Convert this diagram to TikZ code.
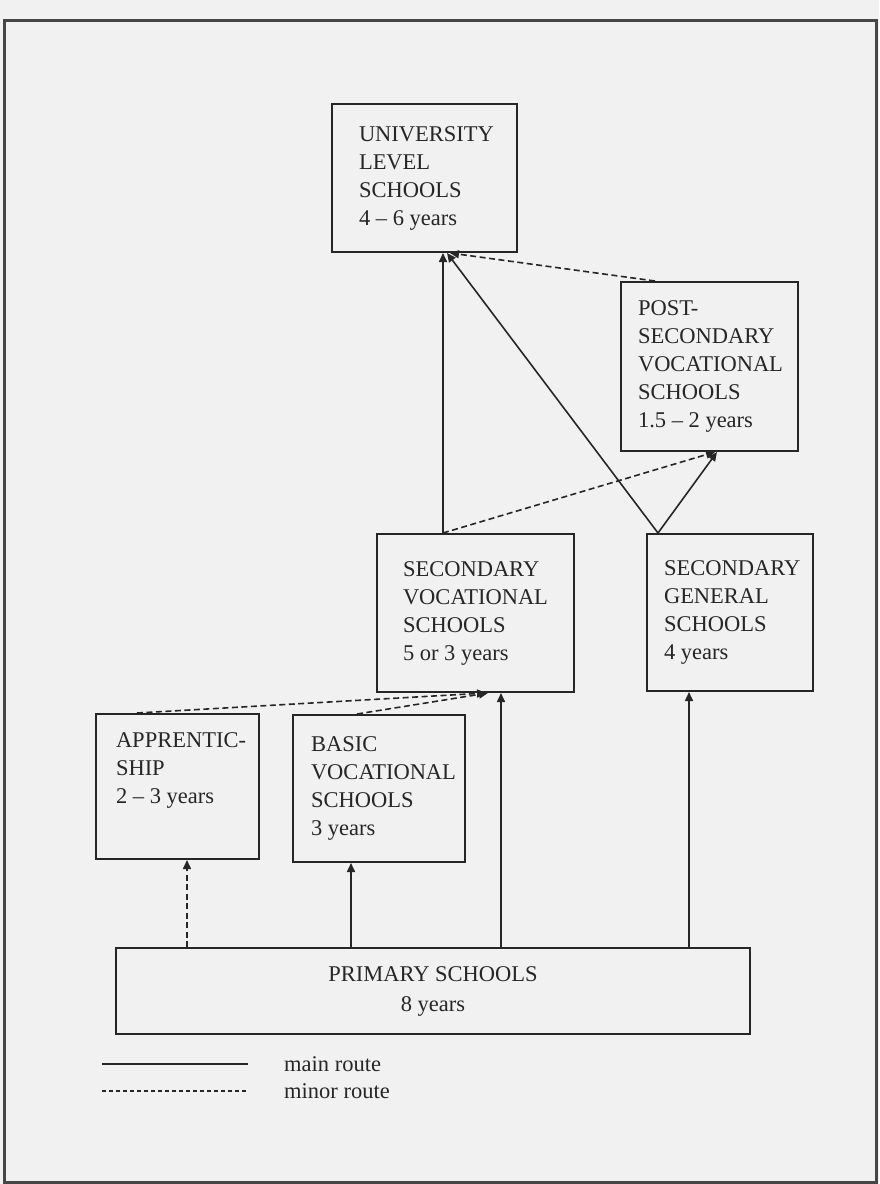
\documentclass[tikz,border=0pt]{standalone}
\usepackage{fontspec}
\setmainfont{Liberation Serif}
\usetikzlibrary{arrows.meta}

\definecolor{ink}{RGB}{38,38,38}
\definecolor{paper}{RGB}{241,241,241}
\definecolor{rim}{RGB}{70,70,70}

\hyphenpenalty=10000
\exhyphenpenalty=10000
\newcommand\schoolfont{\fontsize{22.5pt}{28pt}\selectfont}

\tikzset{
  school/.style={draw=ink,line width=2pt,anchor=north west,align=left,
    inner ysep=0pt,text=ink,font=\schoolfont,
    execute at begin node={\spaceskip=0pt\xspaceskip=0pt}},
  mainroute/.style={draw=ink,line width=1.6pt,-{Triangle[length=9pt,width=8pt]}},
  minorroute/.style={mainroute,dash pattern=on 6pt off 3.5pt},
  keytext/.style={anchor=west,inner sep=0pt,text=ink,font=\schoolfont},
}

\begin{document}
\begin{tikzpicture}[x=1pt,y=-1pt]

  %% page and frame
  \fill[paper] (0,0) rectangle (879,1184);
  \useasboundingbox (0,0) rectangle (879,1184);
  \draw[rim,line width=3pt] (4,20) rectangle (876,1182);

  %% schools
  \node[school,minimum width=185pt,minimum height=148pt,
    text width=131pt,inner xsep=27pt] (univ) at (331,103)
    {UNIVERSITY\\LEVEL\\SCHOOLS\\4 -- 6 years};
  \node[school,minimum width=177pt,minimum height=169pt,
    text width=143pt,inner xsep=17pt] (post) at (620,281)
    {POST-\\SECONDARY\\VOCATIONAL\\SCHOOLS\\1.5 -- 2 years};
  \node[school,minimum width=197pt,minimum height=158pt,
    text width=145pt,inner xsep=26pt] (secvoc) at (376,533)
    {SECONDARY\\VOCATIONAL\\SCHOOLS\\5 or 3 years};
  \node[school,minimum width=166pt,minimum height=157pt,
    text width=132pt,inner xsep=17pt] (secgen) at (646,533)
    {SECONDARY\\GENERAL\\SCHOOLS\\4 years};
  \node[school,minimum width=163pt,minimum height=145pt,
    text width=123pt,inner xsep=20pt] (appr) at (95,713)
    {APPRENTIC-\\SHIP\\2 -- 3 years\\\strut}; %% top aligned like basic
  \node[school,minimum width=172pt,minimum height=147pt,
    text width=136pt,inner xsep=18pt] (basic) at (292,714)
    {BASIC\\VOCATIONAL\\SCHOOLS\\3 years};
  \node[school,minimum width=634pt,minimum height=86pt,align=center,
    font=\fontsize{22.5pt}{30pt}\selectfont]
    (primary) at (115,947) {PRIMARY SCHOOLS\\8 years};

  %% main routes
  \draw[mainroute] ([xshift=67pt]secvoc.north west) -- ([xshift=112pt]univ.south west);
  \draw[mainroute] ([xshift=12pt]secgen.north west) -- ([xshift=116pt]univ.south west);
  \draw[mainroute] ([xshift=12pt]secgen.north west) -- ([xshift=97pt]post.south west);
  \draw[mainroute] ([xshift=236pt]primary.north west) -- ([xshift=59pt]basic.south west);
  \draw[mainroute] ([xshift=386pt]primary.north west) -- ([xshift=125pt]secvoc.south west);
  \draw[mainroute] ([xshift=574pt]primary.north west) -- ([xshift=43pt]secgen.south west);

  %% minor routes
  \draw[minorroute] ([xshift=67pt]secvoc.north west) -- ([xshift=95pt]post.south west);
  \draw[minorroute] ([xshift=35pt]post.north west) -- ([xshift=119pt]univ.south west);
  \draw[minorroute] ([xshift=42pt]appr.north west) -- ([xshift=110pt]secvoc.south west);
  \draw[minorroute] ([xshift=65pt]basic.north west) -- ([xshift=112pt]secvoc.south west);
  \draw[minorroute] ([xshift=72pt]primary.north west) -- ([xshift=92pt]appr.south west);

  %% key
  \node[keytext] (mainkey) at (284,1064) {main route};
  \node[keytext] (minorkey) at (284,1091) {minor route};
  \draw[ink,line width=1.3pt] ([xshift=-182pt]mainkey.west) -- ([xshift=-36pt]mainkey.west);
  \draw[ink,line width=1.3pt,dash pattern=on 4pt off 3pt]
    ([xshift=-182pt]minorkey.west) -- ([xshift=-36pt]minorkey.west);

\end{tikzpicture}
\end{document}
